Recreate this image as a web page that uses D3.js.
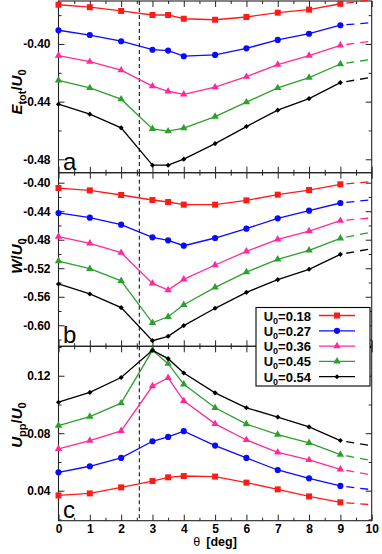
<!DOCTYPE html>
<html>
<head>
<meta charset="utf-8">
<script src="https://cdn.jsdelivr.net/npm/d3@7"></script>
<style>
  body { margin: 0; background: #fff; }
  text { font-family: "Liberation Sans", Arial, sans-serif; }
</style>
</head>
<body>
<div id="chart"></div>
<script>
// ---- data ----
var theta = [0, 1, 2, 3, 3.5, 4, 5, 6, 7, 8, 9];
var thetaExt = 10; // dashed extrapolation end
var u0Labels = ["0.18", "0.27", "0.36", "0.45", "0.54"];

// panel a: E_tot / U0
var eTot = [
  [-0.3728, -0.3745, -0.3771, -0.3799, -0.3799, -0.3825, -0.3832, -0.3813, -0.3783, -0.3762, -0.3721],
  [-0.3905, -0.3938, -0.3981, -0.4040, -0.4046, -0.4085, -0.4076, -0.4030, -0.3972, -0.3929, -0.3870],
  [-0.4081, -0.4123, -0.4182, -0.4293, -0.4328, -0.4349, -0.4300, -0.4227, -0.4143, -0.4081, -0.4009],
  [-0.4252, -0.4305, -0.4383, -0.4589, -0.4605, -0.4584, -0.4504, -0.4404, -0.4305, -0.4233, -0.4139],
  [-0.4418, -0.4487, -0.4582, -0.4841, -0.4841, -0.4799, -0.4691, -0.4573, -0.4459, -0.4379, -0.4268]
];
var eTotExt = [-0.3695, -0.3852, -0.3981, -0.4106, -0.4231];

// panel b: W / U0
var wVal = [
  [-0.4075, -0.4108, -0.4173, -0.4243, -0.4271, -0.4308, -0.4308, -0.4248, -0.4168, -0.4103, -0.4023],
  [-0.4425, -0.4491, -0.4589, -0.4767, -0.4809, -0.4884, -0.4776, -0.4645, -0.4500, -0.4393, -0.4285],
  [-0.4757, -0.4851, -0.4982, -0.5413, -0.5506, -0.5356, -0.5155, -0.4963, -0.4795, -0.4678, -0.4533],
  [-0.5100, -0.5207, -0.5376, -0.5965, -0.5881, -0.5712, -0.5469, -0.5254, -0.5076, -0.4950, -0.4781],
  [-0.5421, -0.5561, -0.5753, -0.6216, -0.6155, -0.6005, -0.5762, -0.5538, -0.5360, -0.5215, -0.5005]
];
var wExt = [-0.3986, -0.4239, -0.4495, -0.4692, -0.4925];

// panel c: U_pp / U0
var uPP = [
  [0.0367, 0.0381, 0.0423, 0.0467, 0.0493, 0.0502, 0.0498, 0.0456, 0.0409, 0.0360, 0.0319],
  [0.0528, 0.0570, 0.0628, 0.0744, 0.0774, 0.0814, 0.0714, 0.0628, 0.0544, 0.0486, 0.0433],
  [0.0691, 0.0749, 0.0816, 0.1128, 0.1186, 0.1026, 0.0865, 0.0753, 0.0667, 0.0614, 0.0549],
  [0.0853, 0.0916, 0.1009, 0.1377, 0.1284, 0.1140, 0.0977, 0.0863, 0.0791, 0.0733, 0.0651],
  [0.1016, 0.1084, 0.1188, 0.1377, 0.1319, 0.1219, 0.1081, 0.0977, 0.0912, 0.0844, 0.0749]
];
var uPPExt = [0.0302, 0.0407, 0.0509, 0.0609, 0.0712];

var xTicks = [0, 1, 2, 3, 4, 5, 6, 7, 8, 9, 10];
var xMinor = [0.5, 1.5, 2.5, 3.5, 4.5, 5.5, 6.5, 7.5, 8.5, 9.5];
var yTicksA = [-0.48, -0.44, -0.40], yMinorA = [-0.46, -0.42, -0.38];
var yTicksB = [-0.60, -0.56, -0.52, -0.48, -0.44, -0.40], yMinorB = [-0.62, -0.58, -0.54, -0.50, -0.46, -0.42];
var yTicksC = [0.04, 0.08, 0.12], yMinorC = [0.02, 0.06, 0.10, 0.14];
var critTheta = 2.58; // vertical dashed line

// ---- layout ----
var width = 382, height = 554;
var left = 58.5, right = 371.7;
var colors = ["#ff1a1a", "#0a0aff", "#ff2a9a", "#2ca02c", "#000000"];

var svg = d3.select("#chart").append("svg")
  .attr("width", width)
  .attr("height", height);

var x = d3.scaleLinear().domain([0, 10]).range([left, right]);

var panels = [
  { letter: "a", data: eTot, ext: eTotExt, domain: [-0.4893, -0.3702], top: 1, bottom: 172.7,
    ticks: yTicksA, minor: yMinorA, labelY: 92 },
  { letter: "b", data: wVal, ext: wExt, domain: [-0.6295, -0.386], top: 172.7, bottom: 346.3,
    ticks: yTicksB, minor: yMinorB, labelY: 256 },
  { letter: "c", data: uPP, ext: uPPExt, domain: [0.0191, 0.1405], top: 346.3, bottom: 520.7,
    ticks: yTicksC, minor: yMinorC, labelY: 425 }
];

function symbolFor(i) {
  if (i == 0) return d3.symbol().type(d3.symbolSquare).size(36)();
  if (i == 1) return d3.symbol().type(d3.symbolCircle).size(30)();
  if (i == 2 || i == 3) return d3.symbol().type(d3.symbolTriangle).size(24)();
  return d3.symbol().type(d3.symbolSquare).size(13)();
}

panels.forEach(function (p, pi) {
  var y = d3.scaleLinear().domain(p.domain).range([p.bottom, p.top]);
  var g = svg.append("g");

  // ticks (inward on all sides)
  function styleAxis(sel) {
    sel.select(".domain").remove();
    sel.selectAll("line").attr("stroke", "#222");
    sel.selectAll("text").attr("font-size", 12).attr("font-weight", "bold")
      .attr("fill", "#000").style("font-family", '"Liberation Sans", Arial, sans-serif');
  }
  g.append("g").attr("transform", "translate(" + left + ",0)")
    .call(d3.axisLeft(y).tickValues(p.ticks).tickSize(-6).tickPadding(8)
      .tickFormat(function (d) { return d.toFixed(2); }))
    .call(styleAxis);
  g.append("g").attr("transform", "translate(" + left + ",0)")
    .call(d3.axisLeft(y).tickValues(p.minor).tickSize(-3).tickFormat(""))
    .call(styleAxis);
  g.append("g").attr("transform", "translate(" + right + ",0)")
    .call(d3.axisRight(y).tickValues(p.ticks).tickSize(-6).tickFormat(""))
    .call(styleAxis);
  g.append("g").attr("transform", "translate(" + right + ",0)")
    .call(d3.axisRight(y).tickValues(p.minor).tickSize(-3).tickFormat(""))
    .call(styleAxis);

  var xb = d3.axisBottom(x).tickValues(xTicks).tickSize(-6).tickPadding(4);
  if (pi < 2) xb.tickFormat("");
  g.append("g").attr("transform", "translate(0," + p.bottom + ")").call(xb).call(styleAxis);
  g.append("g").attr("transform", "translate(0," + p.bottom + ")")
    .call(d3.axisBottom(x).tickValues(xMinor).tickSize(-3).tickFormat("")).call(styleAxis);
  g.append("g").attr("transform", "translate(0," + p.top + ")")
    .call(d3.axisTop(x).tickValues(xTicks).tickSize(-6).tickFormat("")).call(styleAxis);
  g.append("g").attr("transform", "translate(0," + p.top + ")")
    .call(d3.axisTop(x).tickValues(xMinor).tickSize(-3).tickFormat("")).call(styleAxis);

  // frame
  g.append("rect")
    .attr("x", left).attr("y", p.top)
    .attr("width", right - left).attr("height", p.bottom - p.top)
    .attr("fill", "none").attr("stroke", "#222").attr("stroke-width", 1.1);

  // vertical dashed line
  g.append("line")
    .attr("x1", x(critTheta)).attr("x2", x(critTheta))
    .attr("y1", p.top).attr("y2", p.bottom)
    .attr("stroke", "#000").attr("stroke-width", 1).attr("stroke-dasharray", "4,3");

  var line = d3.line()
    .x(function (d, i) { return x(theta[i]); })
    .y(function (d) { return y(d); });

  p.data.forEach(function (series, si) {
    g.append("path")
      .attr("d", line(series))
      .attr("fill", "none").attr("stroke", colors[si]).attr("stroke-width", 1.3);
    // extrapolation
    g.append("line")
      .attr("x1", x(theta[theta.length - 1])).attr("y1", y(series[series.length - 1]))
      .attr("x2", x(thetaExt)).attr("y2", y(p.ext[si]))
      .attr("stroke", colors[si]).attr("stroke-width", 1.3)
      .attr("stroke-dasharray", "8,6").attr("stroke-dashoffset", 8);
    g.selectAll(null).data(series).enter().append("path")
      .attr("d", symbolFor(si))
      .attr("transform", function (d, i) {
        return "translate(" + x(theta[i]) + "," + y(d) + ")" + (si == 4 ? " rotate(45)" : "");
      })
      .attr("fill", colors[si]);
  });

  // panel letter
  g.append("text")
    .attr("x", 63).attr("y", p.bottom - 3)
    .attr("font-size", 24)
    .text(p.letter);
});

// y axis labels
function yLabel(cy, parts) {
  var t = svg.append("text")
    .attr("transform", "translate(22," + cy + ") rotate(-90)")
    .attr("text-anchor", "middle")
    .attr("font-size", 15).attr("font-weight", "bold");
  parts.forEach(function (pt) {
    t.append("tspan")
      .attr("font-style", pt.it ? "italic" : "normal")
      .attr("font-size", pt.sub ? 11 : 15)
      .attr("dy", pt.dy || 0)
      .text(pt.s);
  });
}
yLabel(panels[0].labelY, [{ s: "E", it: true }, { s: "tot", sub: true, dy: 4 }, { s: "/", dy: -4 },
  { s: "U", it: true }, { s: "0", sub: true, dy: 4 }]);
yLabel(panels[1].labelY, [{ s: "W", it: true }, { s: "/" }, { s: "U", it: true }, { s: "0", sub: true, dy: 4 }]);
yLabel(panels[2].labelY, [{ s: "U", it: true }, { s: "pp", sub: true, dy: 4 }, { s: "/", dy: -4 },
  { s: "U", it: true }, { s: "0", sub: true, dy: 4 }]);

// x axis label
var xl = svg.append("text")
  .attr("x", (left + right) / 2).attr("y", 546)
  .attr("text-anchor", "middle").attr("font-size", 12.5).attr("font-weight", "bold");
xl.append("tspan").attr("font-weight", "normal").text("\u03b8");
xl.append("tspan").attr("dx", 6).text("[deg]");

// legend
var lg = svg.append("g");
lg.append("rect")
  .attr("x", 256).attr("y", 307.5).attr("width", 114).attr("height", 78.5)
  .attr("fill", "#fff").attr("stroke", "#000").attr("stroke-width", 1.1);
u0Labels.forEach(function (lab, i) {
  var ly = 315.5 + i * 15.3;
  var t = lg.append("text")
    .attr("x", 311).attr("y", ly + 5)
    .attr("text-anchor", "end").attr("font-size", 13).attr("font-weight", "bold");
  t.append("tspan").text("U");
  t.append("tspan").attr("font-size", 9).attr("dy", 3).text("0");
  t.append("tspan").attr("dy", -3).text("=" + lab);
  lg.append("line")
    .attr("x1", 319).attr("x2", 355).attr("y1", ly).attr("y2", ly)
    .attr("stroke", colors[i]).attr("stroke-width", 1.3);
  lg.append("path")
    .attr("d", symbolFor(i))
    .attr("transform", "translate(337," + ly + ")" + (i == 4 ? " rotate(45)" : ""))
    .attr("fill", colors[i]);
});
</script>
</body>
</html>
